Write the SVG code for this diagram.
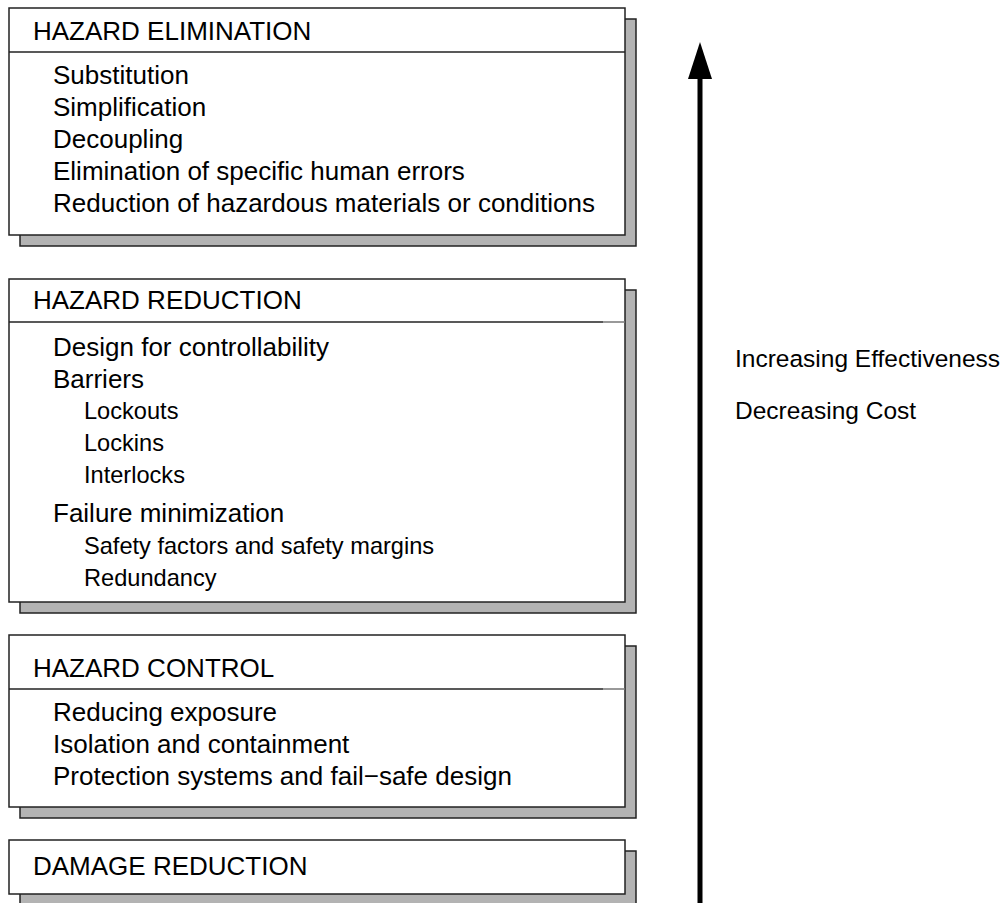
<svg xmlns="http://www.w3.org/2000/svg" width="1005" height="903" viewBox="0 0 1005 903">
<style>
.shadow{fill:#b3b3b3;stroke:#222;stroke-width:1.5}
.box{fill:#fff;stroke:#222;stroke-width:1.5}
.sep{stroke:#222;stroke-width:1.5}
.sepg{stroke:#777;stroke-width:1.5}
text{font-family:"Liberation Sans",Arial,sans-serif;fill:#000}
.h{font-size:26px}
.i{font-size:26px}
.s{font-size:23.6px}
.r{font-size:24.5px}
</style>
<rect width="1005" height="903" fill="#fff"/>
<g id="hazard-elimination">
<rect class="shadow" x="20" y="19" width="616" height="227"/>
<rect class="box" x="9" y="8" width="616" height="227"/>
<line class="sep" x1="9" y1="52" x2="625" y2="52"/>
<text class="h" x="33" y="40">HAZARD ELIMINATION</text>
<text class="i" x="53" y="84">Substitution</text>
<text class="i" x="53" y="116">Simplification</text>
<text class="i" x="53" y="148">Decoupling</text>
<text class="i" x="53" y="180">Elimination of specific human errors</text>
<text class="i" x="53" y="212">Reduction of hazardous materials or conditions</text>
</g>
<g id="hazard-reduction">
<rect class="shadow" x="20" y="290" width="616" height="323"/>
<rect class="box" x="9" y="279" width="616" height="323"/>
<line class="sep" x1="9" y1="322" x2="603" y2="322"/>
<line class="sepg" x1="603" y1="322" x2="625" y2="322"/>
<text class="h" x="33" y="309">HAZARD REDUCTION</text>
<text class="i" x="53" y="356">Design for controllability</text>
<text class="i" x="53" y="388">Barriers</text>
<text class="s" x="84" y="419">Lockouts</text>
<text class="s" x="84" y="451">Lockins</text>
<text class="s" x="84" y="483">Interlocks</text>
<text class="i" x="53" y="522">Failure minimization</text>
<text class="s" x="84" y="554">Safety factors and safety margins</text>
<text class="s" x="84" y="586">Redundancy</text>
</g>
<g id="hazard-control">
<rect class="shadow" x="20" y="646" width="616" height="172"/>
<rect class="box" x="9" y="635" width="616" height="172"/>
<line class="sep" x1="9" y1="689" x2="603" y2="689"/>
<line class="sepg" x1="603" y1="689" x2="625" y2="689"/>
<text class="h" x="33" y="677">HAZARD CONTROL</text>
<text class="i" x="53" y="721">Reducing exposure</text>
<text class="i" x="53" y="753">Isolation and containment</text>
<text class="i" x="53" y="785">Protection systems and fail−safe design</text>
</g>
<g id="damage-reduction">
<rect class="shadow" x="20" y="851" width="616" height="54"/>
<rect class="box" x="9" y="840" width="616" height="54"/>
<text class="h" x="33" y="875">DAMAGE REDUCTION</text>
</g>
<g id="connectors">
<rect x="697.5" y="76" width="5" height="830" fill="#000"/>
<polygon points="700,42 712,79 688,79" fill="#000"/>
</g>
<g id="labels">
<text class="r" x="735" y="367">Increasing Effectiveness</text>
<text class="r" x="735" y="419">Decreasing Cost</text>
</g>
</svg>
